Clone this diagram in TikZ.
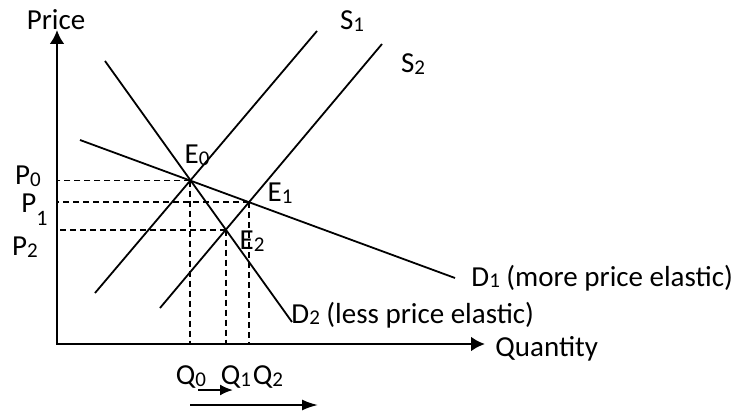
\documentclass[tikz,border=0pt]{standalone}
\usepackage{fontspec}
\setmainfont{Carlito}
\usetikzlibrary{arrows.meta}
\newcommand{\lo}[1]{\raisebox{-.12ex}{\fontsize{10.5}{11}\selectfont #1}}
\tikzset{
  lbl/.style={inner sep=0pt, font=\fontsize{14.5}{17}\selectfont},
  curve/.style={line width=0.9pt},
  axis/.style={line width=1.4pt, line join=miter, {Latex[length=7pt,width=7.5pt]}-{Latex[length=7pt,width=7.5pt]}},
  guide/.style={line width=0.9pt, dash pattern=on 3pt off 2pt},
  shift/.style={line width=1pt, -{Latex[length=#1,width=5.5pt]}},
}
\begin{document}
\begin{tikzpicture}[x=0.5pt,y=-0.5pt]
  \useasboundingbox (0,0) rectangle (742,411);
  \coordinate (o) at (57,344);
  \coordinate (ytop) at (57,30);
  \coordinate (xend) at (485,344);
  \draw[axis] (ytop) -- (o) -- (xend);
  % demand and supply lines
  \coordinate (d1a) at (80,140);  \coordinate (d1b) at (455,278);
  \coordinate (d2a) at (105,61);  \coordinate (d2b) at (292,322);
  \coordinate (s1a) at (95,293);  \coordinate (s1b) at (317,31);
  \coordinate (s2a) at (160,308); \coordinate (s2b) at (382,44);
  \foreach \a/\b in {d1a/d1b,d2a/d2b,s1a/s1b,s2a/s2b} {
    \draw[curve] (\a) -- (\b);
    }
  \coordinate (e0) at (intersection of d1a--d1b and s1a--s1b);
  \coordinate (e1) at (intersection of d1a--d1b and s2a--s2b);
  \coordinate (e2) at (intersection of d2a--d2b and s2a--s2b);
  \foreach \e in {e0,e1,e2} {
    \draw[guide] (\e) -- (\e -| o);
    \draw[guide] (\e) -- (\e |- o);
    }
  % labels
  \node[lbl] (price) at (56,20) {Price};
  \node[lbl] (qty) [anchor=west] at (495,349) {Quantity};
  \node[lbl] (s1) at (352,21) {S\lo1};
  \node[lbl] (s2) at (413,64) {S\lo2};
  \node[lbl] (l0) at (197,155) {E\lo0};
  \node[lbl] (l1) at (280,193) {E\lo1};
  \node[lbl] (l2) at (252,241) {E\lo2};
  \node[lbl] (p0) at (28,176) {P\lo0};
  \node[lbl] (p1) [anchor=base west] at (21,212) {P\raisebox{-6.5pt}{\fontsize{11}{11}\selectfont 1}};
  \node[lbl] (p2) at (25,247) {P\lo2};
  \foreach \n/\x in {0/191,1/236,2/268} {
    \node[lbl] (q\n) at (\x,377) {Q\lo{\n}};
    }
  \node[lbl] (d1) [anchor=west] at (471,278) {D\lo1 (more price elastic)};
  \node[lbl] (d2) [anchor=west] at (291,315) {D\lo2 (less price elastic)};
  % change in quantity
  \coordinate (a1s) at (198,390); \coordinate (a1e) at (233,390);
  \coordinate (a2s) at (190,405); \coordinate (a2e) at (318,405);
  \draw[shift=6.5pt] (a1s) -- (a1e);
  \draw[shift=8pt] (a2s) -- (a2e);
\end{tikzpicture}
\end{document}
